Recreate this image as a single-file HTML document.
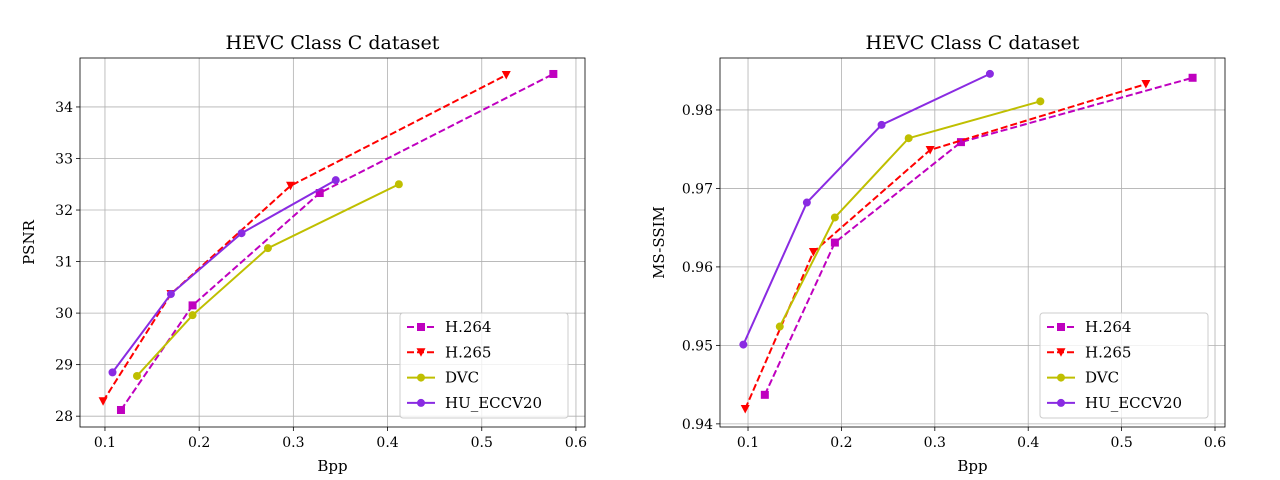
<!DOCTYPE html>
<html><head><meta charset="utf-8"><style>
html,body{margin:0;padding:0;background:#fff;}
svg{display:block;font-family:"DejaVu Serif","Liberation Serif",serif;}
</style></head><body>
<svg id="fig" width="1280" height="480" xmlns="http://www.w3.org/2000/svg"></svg>
<script>
const seriesNames = ["H.264","H.265","DVC","HU_ECCV20"];
const psnrBpp = [[0.117,0.193,0.328,0.576],[0.098,0.170,0.297,0.526],[0.134,0.193,0.273,0.412],[0.108,0.170,0.245,0.345]];
const psnrVal = [[28.12,30.15,32.33,34.64],[28.29,30.37,32.47,34.62],[28.78,29.96,31.26,32.50],[28.85,30.37,31.55,32.58]];
const ssimBpp = [[0.118,0.193,0.328,0.576],[0.097,0.170,0.295,0.526],[0.134,0.193,0.272,0.413],[0.095,0.163,0.243,0.359]];
const ssimVal = [[0.9437,0.9631,0.9759,0.9841],[0.9419,0.9619,0.9749,0.9833],[0.9524,0.9663,0.9764,0.9811],[0.9501,0.9682,0.9781,0.9846]];
const xTicks = [0.1,0.2,0.3,0.4,0.5,0.6];
const psnrTicks = [28,29,30,31,32,33,34];
const ssimTicks = [0.94,0.95,0.96,0.97,0.98];
const colors = ["#bf00bf","#ff0000","#bfbf00","#8a2be2"];
const dashed = [true,true,false,false];
const markers = ["square","tri","circle","circle"];

const NS="http://www.w3.org/2000/svg";
const svg=document.getElementById('fig');
function mk(tag,attrs,parent){const e=document.createElementNS(NS,tag);for(const k in attrs)e.setAttribute(k,attrs[k]);(parent||svg).appendChild(e);return e;}
function marker(g,type,x,y,c){
  if(type==="square") return mk('rect',{x:x-4,y:y-4,width:8,height:8,fill:c},g);
  if(type==="tri") return mk('polygon',{points:`${x-4.5},${y-4} ${x+4.5},${y-4} ${x},${y+4.5}`,fill:c},g);
  return mk('circle',{cx:x,cy:y,r:4,fill:c},g);
}
function drawChart(cfg){
  const {L,R,T,B,xmin,xmax,ymin,ymax,xs,ys,yt,yfmt,ylabel,name}=cfg;
  const g=mk('g',{});
  
  
  const sx=v=>L+(v-xmin)/(xmax-xmin)*(R-L);
  const sy=v=>B-(v-ymin)/(ymax-ymin)*(B-T);
  xTicks.forEach(t=>{const x=sx(t);
    const l=mk('line',{x1:x,x2:x,y1:T,y2:B,stroke:'#b0b0b0','stroke-width':0.8},g);
    
    mk('line',{x1:x,x2:x,y1:B,y2:B+4,stroke:'#000','stroke-width':0.8},g);
    const tx=mk('text',{x:x,y:B+20,'text-anchor':'middle','font-size':14},g);tx.textContent=t.toFixed(1);
    
  });
  yt.forEach(t=>{const y=sy(t);
    const l=mk('line',{x1:L,x2:R,y1:y,y2:y,stroke:'#b0b0b0','stroke-width':0.8},g);
    
    mk('line',{x1:L-4,x2:L,y1:y,y2:y,stroke:'#000','stroke-width':0.8},g);
    const tx=mk('text',{x:L-7,y:y+5,'text-anchor':'end','font-size':14},g);tx.textContent=yfmt(t);
    
  });
  for(let s=0;s<4;s++){
    const pts=xs[s].map((v,i)=>sx(v)+','+sy(ys[s][i])).join(' ');
    const pl=mk('polyline',{points:pts,fill:'none',stroke:colors[s],'stroke-width':2,'stroke-dasharray':dashed[s]?'7,3':'none'},g);
    
    
    xs[s].forEach((v,i)=>{const m=marker(g,markers[s],sx(v),sy(ys[s][i]),colors[s]);
      });
  }
  mk('rect',{x:L,y:T,width:R-L,height:B-T,fill:'none',stroke:'#000','stroke-width':0.8},g);
  const ti=mk('text',{x:(L+R)/2,y:T-9,'text-anchor':'middle','font-size':19},g);ti.textContent='HEVC Class C dataset';
  
  const xl=mk('text',{x:(L+R)/2,y:B+44,'text-anchor':'middle','font-size':15},g);xl.textContent='Bpp';
  
  const yx=L-cfg.ylOff, yy=(T+B)/2;
  const yl=mk('text',{x:yx,y:yy,'text-anchor':'middle','font-size':15,transform:`rotate(-90 ${yx} ${yy})`},g);yl.textContent=ylabel;
  
  // legend
  const lx=R-185, ly=B-114;
  const lg=mk('g',{},g);
  
  mk('rect',{x:lx,y:ly,width:168,height:105,rx:3,fill:'#fff','fill-opacity':0.8,stroke:'#ccc'},lg);
  for(let s=0;s<4;s++){const y=ly+14+s*25.3;
    const e=mk('g',{},lg);
    mk('line',{x1:lx+7,x2:lx+35,y1:y,y2:y,stroke:colors[s],'stroke-width':2,'stroke-dasharray':dashed[s]?'7,3':'none'},e);
    marker(e,markers[s],lx+21,y,colors[s]);
    const t=mk('text',{x:lx+45,y:y+5,'font-size':15},e);t.textContent=seriesNames[s];
  }
}
drawChart({name:'psnr-chart',L:80,R:585,T:58,B:427,xmin:0.0735,xmax:0.6096,ymin:27.79,ymax:34.95,xs:psnrBpp,ys:psnrVal,yt:psnrTicks,yfmt:t=>String(t),ylabel:'PSNR',ylOff:46});
drawChart({name:'ms-ssim-chart',L:720,R:1225,T:58,B:427,xmin:0.070,xmax:0.6107,ymin:0.9396,ymax:0.98662,xs:ssimBpp,ys:ssimVal,yt:ssimTicks,yfmt:t=>t.toFixed(2),ylabel:'MS-SSIM',ylOff:56});
</script>
</body></html>
